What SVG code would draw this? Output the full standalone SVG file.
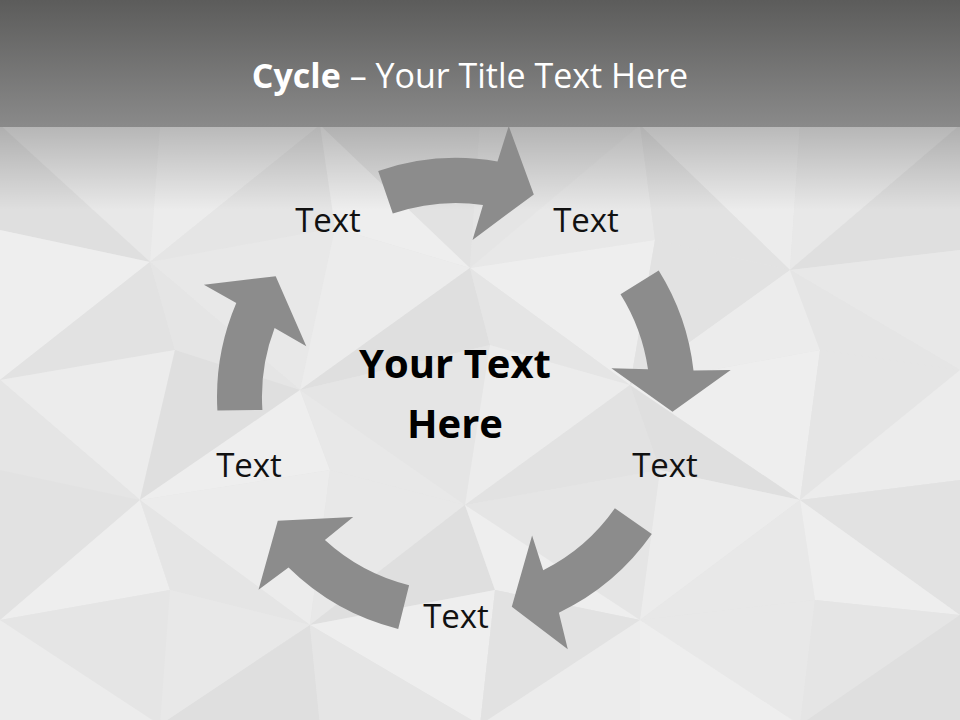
<svg xmlns="http://www.w3.org/2000/svg" width="960" height="720" viewBox="0 0 960 720">
<defs>
<linearGradient id="band" x1="0" y1="0" x2="0" y2="1">
<stop offset="0" stop-color="#5c5c5b"/>
<stop offset="1" stop-color="#8a8a8a"/>
</linearGradient>
<linearGradient id="shade" x1="0" y1="0" x2="0" y2="1">
<stop offset="0" stop-color="#000" stop-opacity="0.22"/>
<stop offset="1" stop-color="#000" stop-opacity="0"/>
</linearGradient>
<style>
.a{fill:#e8e8e8}.b{fill:#e2e2e2}.c{fill:#ececec}.d{fill:#dfdfdf}.e{fill:#e5e5e5}.f{fill:#eeeeee}
.arrow{fill:#8c8c8c}
.lbl{font-family:"Open Sans","DejaVu Sans",sans-serif;font-size:33px;fill:#111;text-anchor:middle}
.ctr{font-family:"Open Sans","DejaVu Sans",sans-serif;font-size:40px;font-weight:bold;fill:#000;text-anchor:middle}
.ttl{font-family:"Open Sans","DejaVu Sans",sans-serif;font-size:34px;fill:#fff;text-anchor:middle}
</style>
</defs>
<g id="background">
<rect x="0" y="0" width="960" height="720" fill="#e5e5e5"/>
<polygon class="a" points="0,125 160,125 150,262"/>
<polygon class="d" points="0,125 150,262 0,230"/>
<polygon class="c" points="160,125 320,125 150,262"/>
<polygon class="e" points="320,125 335,228 150,262"/>
<polygon class="b" points="320,125 480,125 470,268"/>
<polygon class="f" points="320,125 470,268 335,228"/>
<polygon class="e" points="480,125 640,125 470,268"/>
<polygon class="a" points="640,125 655,240 470,268"/>
<polygon class="c" points="640,125 800,125 790,270"/>
<polygon class="b" points="640,125 790,270 655,240"/>
<polygon class="a" points="800,125 960,125 790,270"/>
<polygon class="d" points="960,125 960,250 790,270"/>
<polygon class="f" points="0,230 150,262 0,380"/>
<polygon class="b" points="150,262 175,350 0,380"/>
<polygon class="a" points="150,262 335,228 300,390"/>
<polygon class="e" points="150,262 300,390 175,350"/>
<polygon class="c" points="335,228 470,268 300,390"/>
<polygon class="d" points="470,268 490,345 300,390"/>
<polygon class="f" points="470,268 655,240 630,385"/>
<polygon class="e" points="470,268 630,385 490,345"/>
<polygon class="b" points="655,240 790,270 630,385"/>
<polygon class="c" points="790,270 820,350 630,385"/>
<polygon class="a" points="790,270 960,250 960,370"/>
<polygon class="e" points="790,270 960,370 820,350"/>
<polygon class="c" points="0,380 175,350 140,500"/>
<polygon class="e" points="0,380 140,500 0,470"/>
<polygon class="d" points="175,350 300,390 140,500"/>
<polygon class="f" points="300,390 330,470 140,500"/>
<polygon class="e" points="300,390 490,345 465,505"/>
<polygon class="a" points="300,390 465,505 330,470"/>
<polygon class="c" points="490,345 630,385 465,505"/>
<polygon class="b" points="630,385 660,470 465,505"/>
<polygon class="f" points="630,385 820,350 800,500"/>
<polygon class="d" points="630,385 800,500 660,470"/>
<polygon class="e" points="820,350 960,370 800,500"/>
<polygon class="c" points="960,370 960,480 800,500"/>
<polygon class="b" points="0,470 140,500 0,620"/>
<polygon class="f" points="140,500 170,590 0,620"/>
<polygon class="c" points="140,500 330,470 310,625"/>
<polygon class="e" points="140,500 310,625 170,590"/>
<polygon class="a" points="330,470 465,505 310,625"/>
<polygon class="d" points="465,505 495,590 310,625"/>
<polygon class="e" points="465,505 660,470 640,620"/>
<polygon class="f" points="465,505 640,620 495,590"/>
<polygon class="c" points="660,470 800,500 640,620"/>
<polygon class="a" points="800,500 815,600 640,620"/>
<polygon class="b" points="800,500 960,480 960,615"/>
<polygon class="f" points="800,500 960,615 815,600"/>
<polygon class="e" points="0,620 170,590 160,725"/>
<polygon class="c" points="0,620 160,725 0,725"/>
<polygon class="a" points="170,590 310,625 160,725"/>
<polygon class="d" points="310,625 320,725 160,725"/>
<polygon class="f" points="310,625 495,590 480,725"/>
<polygon class="e" points="310,625 480,725 320,725"/>
<polygon class="b" points="495,590 640,620 480,725"/>
<polygon class="c" points="640,620 640,725 480,725"/>
<polygon class="a" points="640,620 815,600 800,725"/>
<polygon class="f" points="640,620 800,725 640,725"/>
<polygon class="e" points="815,600 960,615 800,725"/>
<polygon class="d" points="960,615 960,725 800,725"/>
<rect x="0" y="125" width="960" height="85" fill="url(#shade)"/>
<rect x="0" y="0" width="960" height="127" fill="url(#band)"/>
</g>
<g id="title">
<text class="ttl" x="470" y="88"><tspan font-weight="bold">Cycle</tspan> – Your Title Text Here</text>
</g>
<g id="connectors">
<path id="arrow-top" class="arrow" d="M378.2,171.0 A239,239 0 0 1 497.5,161.6 L508.7,126.1 L533.8,194.4 L472.5,239.9 L483.0,204.9 A194,194 0 0 0 392.8,213.6 Z"/>
<path id="arrow-right" class="arrow" d="M658.7,270.4 A239,239 0 0 1 693.5,370.4 L730.7,370.1 L672.5,411.8 L611.4,368.2 L648.0,369.3 A194,194 0 0 0 620.5,294.2 Z"/>
<path id="arrow-bottom-right" class="arrow" d="M651.8,534.1 A239,239 0 0 1 558.9,612.7 L567.8,649.3 L511.8,606.7 L532.1,535.5 L543.2,570.3 A194,194 0 0 0 614.9,508.3 Z"/>
<path id="arrow-bottom-left" class="arrow" d="M398.2,628.9 A239,239 0 0 1 288.5,567.5 L258.5,589.8 L277.8,520.8 L353.2,517.0 L324.9,540.0 A194,194 0 0 0 409.1,585.2 Z"/>
<path id="arrow-left" class="arrow" d="M217.4,410.5 A239,239 0 0 1 236.3,302.9 L203.9,284.7 L275.7,276.3 L306.3,346.3 L274.6,328.1 A194,194 0 0 0 262.4,410 Z"/>
</g>
<g id="node-center">
<text class="ctr" x="455" y="378">Your Text</text>
<text class="ctr" x="455" y="438">Here</text>
</g>
<g id="node-1"><text class="lbl" x="328" y="232">Text</text></g>
<g id="node-2"><text class="lbl" x="586" y="232">Text</text></g>
<g id="node-3"><text class="lbl" x="665" y="477">Text</text></g>
<g id="node-4"><text class="lbl" x="456" y="628">Text</text></g>
<g id="node-5"><text class="lbl" x="249" y="477">Text</text></g>
</svg>
